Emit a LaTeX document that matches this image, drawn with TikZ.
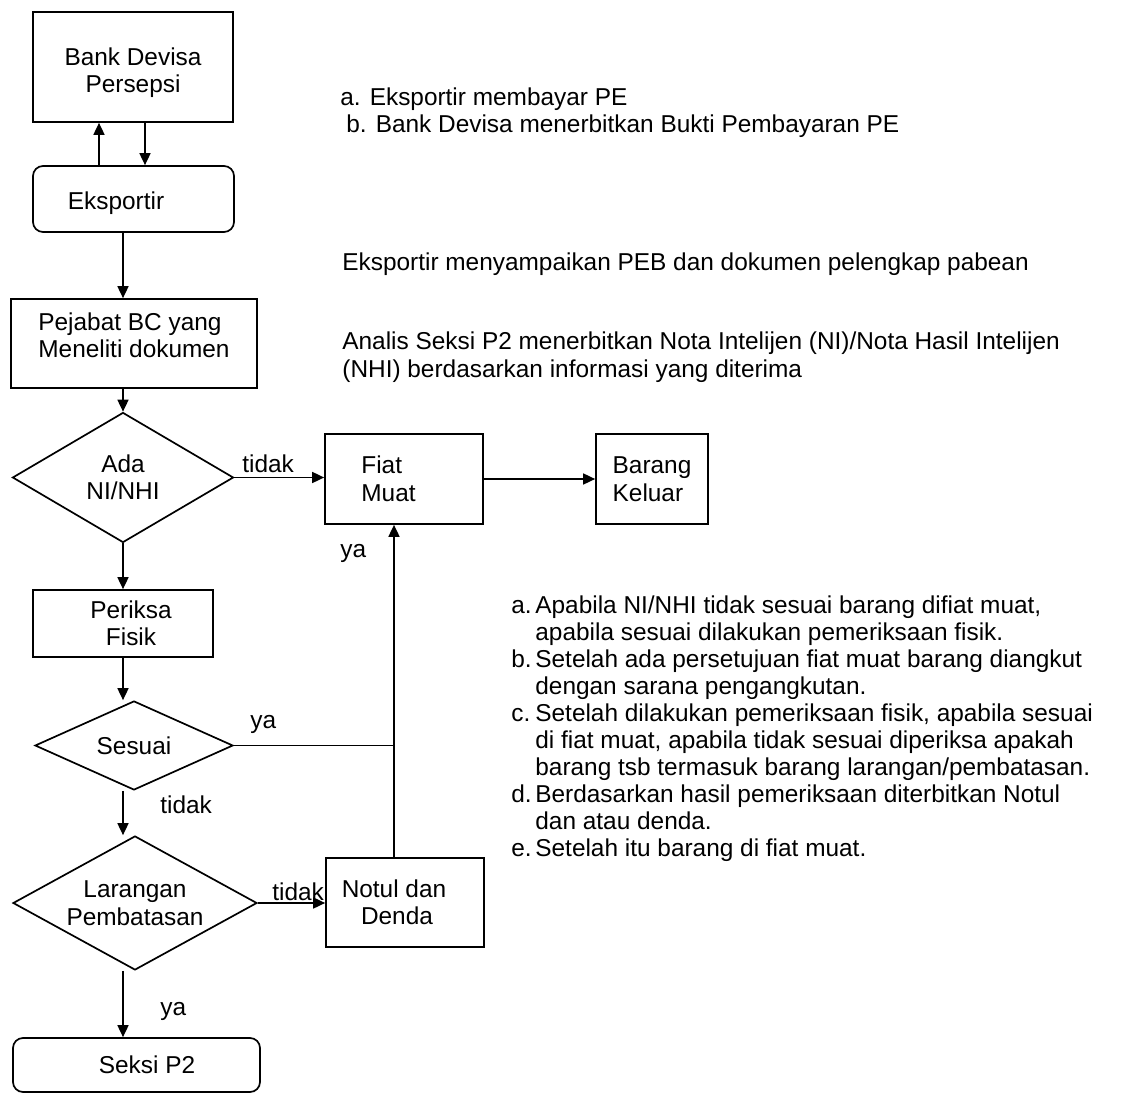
\documentclass[tikz,border=0pt]{standalone}
\usepackage{fontspec}
\setmainfont{Liberation Sans}
\usetikzlibrary{shapes.geometric,arrows.meta}
\newcommand\itemlbl[1]{\makebox[12pt][l]{#1}}
\begin{document}
\begin{tikzpicture}[x=0.5pt,y=-0.5pt,
  every node/.style={font=\fontsize{12.2pt}{13.75pt}\selectfont},
  box/.style={draw,line width=0.85pt,inner sep=0pt,align=center},
  rbox/.style={box,rounded corners=5pt},
  dia/.style={draw,line width=0.85pt,diamond,inner sep=0pt,align=center},
  arr/.style={line width=0.85pt,-{Triangle[length=6pt,width=5.5pt]}},
  ln/.style={line width=0.85pt},
  lbl/.style={inner sep=0pt,anchor=base west},
  note/.style={inner sep=0pt,anchor=base west,align=left}]
\useasboundingbox (0,0) rectangle (1124,1096);

% boxes
\node[box,minimum width=100pt,minimum height=55pt] (bank) at (133,67) {\rule{0pt}{14.5pt}Bank Devisa\\Persepsi};
\node[rbox,minimum width=100.5pt,minimum height=33pt] (ekspor) at (133.5,199) {\rule{0pt}{13pt}Eksportir\hspace*{17.5pt}};
\node[box,align=left,minimum width=123pt,minimum height=44.5pt] (pejabat) at (134,343.5) {Pejabat BC yang\\Meneliti dokumen\rule[-8.5pt]{0pt}{8.5pt}};
\node[dia,minimum width=110.5pt,minimum height=65pt,aspect=1.7] (ada) at (123,477.5) {Ada\\NI/NHI};
\node[box,align=left,minimum width=79pt,minimum height=45pt] (fiat) at (404,479) {Fiat\\Muat\hspace*{15.5pt}};
\node[box,align=left,minimum width=56pt,minimum height=45pt] (barang) at (652,479) {Barang\\Keluar};
\node[box,minimum width=90pt,minimum height=33.5pt] (periksa) at (123,623.5) {\hspace*{8pt}Periksa\\\hspace*{8pt}Fisik};
\node[dia,minimum width=99pt,minimum height=44.5pt,aspect=2.2] (sesuai) at (134,745.5) {Sesuai};
\node[dia,minimum width=122pt,minimum height=67pt,aspect=1.8] (larangan) at (135,903) {Larangan\\Pembatasan};
\node[box,minimum width=79pt,minimum height=44.5pt] (notul) at (405,902.5) {Notul dan\hspace*{11pt}\\Denda\hspace*{8pt}};
\node[rbox,minimum width=123.5pt,minimum height=27pt] (seksi) at (136.5,1065) {\hspace*{10.5pt}Seksi P2};

% helper coordinates
\coordinate (cu) at (99,0);
\coordinate (cd) at (145,0);
\coordinate (cm) at (123,0);
\coordinate (join) at (394,745.5);

% connectors
\draw[arr] (ekspor.north -| cu) -- (bank.south -| cu);
\draw[arr] (bank.south -| cd) -- (ekspor.north -| cd);
\draw[arr] (ekspor.south -| cm) -- (pejabat.north -| cm);
\draw[arr] (pejabat.south -| cm) -- (ada.north);
\draw[arr] (ada.east) -- (fiat.west |- ada.east);
\draw[arr] (fiat.east) -- (barang.west);
\draw[arr] (ada.south) -- (periksa.north);
\draw[arr] (periksa.south) -- (periksa.south |- sesuai.north);
\draw[ln] (sesuai.east) -- (join);
\draw[arr] (notul.north -| join) -- (fiat.south -| join);
\draw[arr] (sesuai.south -| cm) -- (larangan.north -| cm);
\draw[arr] (larangan.east) -- (notul.west |- larangan.east);
\draw[arr] (larangan.south -| cm) -- (seksi.north -| cm);

% connector labels
\node[lbl] (t1) at (242,473) {tidak};
\node[lbl] (y1) at (340,557) {ya};
\node[lbl] (y2) at (250,728) {ya};
\node[lbl] (t2) at (160,813) {tidak};
\node[lbl] (t3) at (272,900) {tidak};
\node[lbl] (y3) at (160,1015) {ya};

% notes
\node[lbl] (n1) at (340,106) {a. Eksportir membayar PE};
\node[lbl] (n2) at (346,133) {b. Bank Devisa menerbitkan Bukti Pembayaran PE};
\node[lbl] (n3) at (342,271) {Eksportir menyampaikan PEB dan dokumen pelengkap pabean};
\node[note,font=\fontsize{12.2pt}{14pt}\selectfont] (n4) at (342,378) {Analis Seksi P2 menerbitkan Nota Intelijen (NI)/Nota Hasil Intelijen\\(NHI) berdasarkan informasi yang diterima};
\node[note,font=\fontsize{12.2pt}{13.5pt}\selectfont] (n5) at (511,856) {\itemlbl{a.}Apabila NI/NHI tidak sesuai barang difiat muat,\\
\itemlbl{}apabila sesuai dilakukan pemeriksaan fisik.\\
\itemlbl{b.}Setelah ada persetujuan fiat muat barang diangkut\\
\itemlbl{}dengan sarana pengangkutan.\\
\itemlbl{c.}Setelah dilakukan pemeriksaan fisik, apabila sesuai\\
\itemlbl{}di fiat muat, apabila tidak sesuai diperiksa apakah\\
\itemlbl{}barang tsb termasuk barang larangan/pembatasan.\\
\itemlbl{d.}Berdasarkan hasil pemeriksaan diterbitkan Notul\\
\itemlbl{}dan atau denda.\\
\itemlbl{e.}Setelah itu barang di fiat muat.};
\end{tikzpicture}
\end{document}
